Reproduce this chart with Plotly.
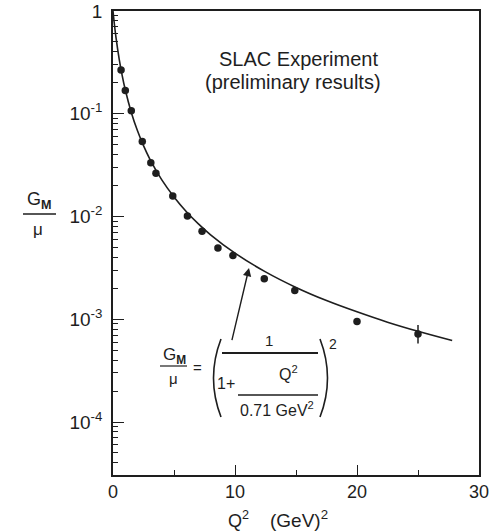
import plotly.graph_objects as go
import math

# ---- data ----
q2_data = [0.66, 1.01, 1.5, 2.4, 3.1, 3.52, 4.9, 6.1, 7.3, 8.6, 9.83, 12.4, 14.9, 20.0, 25.0]
gm_data = [0.267, 0.168, 0.107, 0.0536, 0.0334, 0.0263, 0.0158, 0.0101, 0.0072, 0.00495,
           0.00417, 0.00248, 0.0019, 0.00095, 0.00072]
err_plus = [0, 0, 0, 0, 0, 0, 0, 0, 0, 0, 0, 0, 0, 0, 0.00016]
err_minus = [0, 0, 0, 0, 0, 0, 0, 0, 0, 0, 0, 0, 0, 0, 0.00014]

# dipole fit curve
q2_curve = [0, 0.1, 0.25, 0.5, 0.75, 1, 1.5, 2, 2.5, 3, 4, 5, 6, 7, 8, 10, 12.5, 15,
            17.5, 20, 22.5, 25, 27.8]
gm_curve = [1.0, 0.768, 0.547, 0.344, 0.2366, 0.172, 0.103, 0.0686, 0.0489, 0.0366,
            0.0227, 0.0155, 0.0112, 0.00848, 0.00664, 0.0044, 0.00289, 0.00204,
            0.00152, 0.00118, 0.000936, 0.000763, 0.00062]

x_ticks = [0, 10, 20, 30]
x_minor = [5, 15, 25]
y_major = [1, 0.1, 0.01, 0.001, 0.0001]
y_major_text = ["1", "10<sup>-1</sup>", "10<sup>-2</sup>", "10<sup>-3</sup>", "10<sup>-4</sup>"]

INK = "#1e1e1e"
FONT = "Liberation Sans, Arial, Helvetica, sans-serif"

# plot-area geometry (pixels) for decorative text placement
L, T, W, H = 113, 11, 366, 464
def px(x):
    return (x - L) / W
def py(y):
    return (T + H - y) / H

y_minor = []
for k in range(-5, 0):
    for m in range(2, 10):
        v = m * 10 ** k
        if v > 3.05e-5:
            y_minor.append(v)

fig = go.Figure()
fig.add_trace(go.Scatter(x=q2_curve, y=gm_curve, mode="lines", line=dict(color=INK, width=1.6),
                         line_shape="spline", hoverinfo="skip", showlegend=False))
fig.add_trace(go.Scatter(x=q2_data, y=gm_data, mode="markers",
                         marker=dict(color=INK, size=7.5),
                         error_y=dict(type="data", symmetric=False, array=err_plus,
                                      arrayminus=err_minus, color=INK, thickness=1.5, width=0),
                         showlegend=False))

fig.update_layout(
    width=501, height=532,
    margin=dict(l=L, r=501 - L - W, t=T, b=532 - T - H, autoexpand=False),
    paper_bgcolor="white", plot_bgcolor="white",
    font=dict(family=FONT, color=INK, size=16),
    xaxis=dict(range=[0, 30], tickmode="array", tickvals=x_ticks, ticks="inside", ticklen=10,
               tickwidth=1.3, tickcolor=INK, showline=True, linecolor=INK, linewidth=1.5,
               mirror=True, showgrid=False, zeroline=False, tickfont=dict(size=18),
               automargin=False,
               minor=dict(tickmode="array", tickvals=x_minor, ticks="inside", ticklen=5,
                          tickwidth=1.2, tickcolor=INK, showgrid=False)),
    yaxis=dict(type="log", range=[math.log10(3.05e-5), 0], tickmode="array", tickvals=y_major,
               ticktext=y_major_text, ticks="inside", ticklen=11, tickwidth=1.3, tickcolor=INK,
               showline=True, linecolor=INK, linewidth=1.5, mirror=True, showgrid=False,
               zeroline=False, tickfont=dict(size=19), ticklabelstandoff=5, automargin=False,
               minor=dict(tickmode="array", tickvals=y_minor, ticks="inside", ticklen=5,
                          tickwidth=1.1, tickcolor=INK, showgrid=False)),
)

ann = []
def text(x, y, s, size=15, xanchor="center"):
    ann.append(dict(xref="paper", yref="paper", x=px(x), y=py(y), text=s, showarrow=False,
                    xanchor=xanchor, yanchor="middle", font=dict(size=size, family=FONT, color=INK)))

# header text
text(298, 59, "SLAC Experiment", 20)
text(293, 82, "(preliminary results)", 20)

# y-axis label fraction
text(39, 201, "G<sub><b>M</b></sub>", 18)
text(38, 229, "μ", 17)
# x-axis label
text(238, 519, "Q<sup>2</sup>", 18)
text(299, 519, "(GeV)<sup>2</sup>", 19)

# formula
text(174, 356, "G<sub><b>M</b></sub>", 17)
text(173, 378, "μ", 15)
text(197, 367, "=", 15)
text(269, 340, "1", 15)
text(226, 383, "1+", 16)
text(288, 373, "Q<sup>2</sup>", 16)
text(277, 409, "0.71 GeV<sup>2</sup>", 16)
text(333, 344, "2", 14)

shapes = []
def hline(x0, x1, y, w=1.4):
    shapes.append(dict(type="line", xref="paper", yref="paper", x0=px(x0), x1=px(x1),
                       y0=py(y), y1=py(y), line=dict(color=INK, width=w)))
hline(23, 56, 214, 1.3)
hline(160, 187, 366, 1.2)
hline(222, 318, 353, 1.8)
hline(238, 318, 395, 1.3)

def paren(xt, yt, xc, yc, xb, yb):
    shapes.append(dict(type="path", xref="paper", yref="paper",
                       path=f"M {px(xt)},{py(yt)} Q {px(xc)},{py(yc)} {px(xb)},{py(yb)}",
                       line=dict(color=INK, width=1.6)))
paren(221, 339, 206, 378, 221, 417)
paren(320, 339, 335, 378, 320, 417)

# arrow from formula to the curve
ann.append(dict(xref="x", yref="y", x=11.15, y=math.log10(0.00316), axref="x", ayref="y",
                ax=9.72, ay=math.log10(0.000607), showarrow=True, arrowhead=2, arrowsize=1.2,
                arrowwidth=1.4, arrowcolor=INK, text=""))

fig.update_layout(annotations=ann, shapes=shapes)
fig.write_html("out.html", config={"displayModeBar": False},
               post_script="document.body.style.margin='0';document.body.style.padding='0';")
